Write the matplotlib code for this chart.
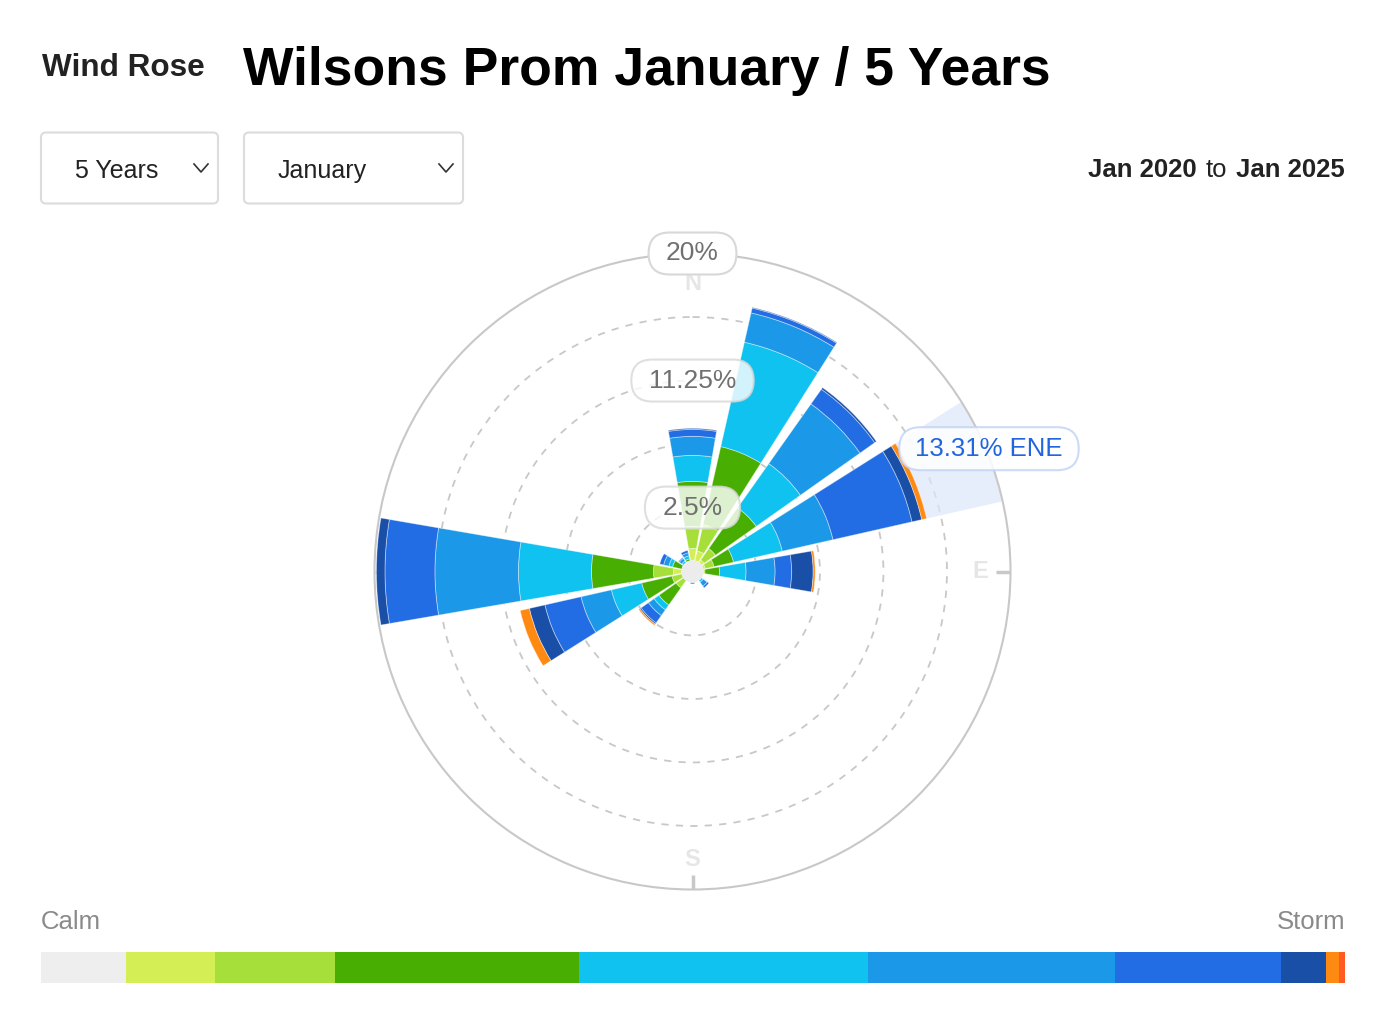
import numpy as np
import matplotlib.pyplot as plt
from matplotlib.patches import FancyBboxPatch
from matplotlib.transforms import IdentityTransform
from matplotlib.lines import Line2D

plt.rcParams['font.family'] = ['Liberation Sans', 'DejaVu Sans']

#------------------------------------------------------------------------------------------------
# Data (percent of time, per direction, stacked per speed class)
directions = ['N', 'NNE', 'NE', 'ENE', 'E', 'ESE', 'SE', 'SSE',
              'S', 'SSW', 'SW', 'WSW', 'W', 'WNW', 'NW', 'NNW']

light_air   = [0.83, 0.69, 0.21, 0.14, 0.00, 0, 0.00, 0, 0.00, 0, 0.00, 0.00, 0.55, 0.00, 0.00, 0.00]
light_brz   = [1.52, 1.86, 0.97, 0.62, 0.10, 0, 0.00, 0, 0.00, 0, 0.62, 0.69, 1.38, 0.00, 0.00, 0.00]
gentle      = [3.10, 5.51, 3.44, 1.38, 1.00, 0, 0.00, 0, 0.00, 0, 1.45, 2.14, 4.27, 0.65, 0.00, 0.14]
moderate    = [1.79, 7.37, 3.72, 3.44, 1.83, 0, 0.14, 0, 0.00, 0, 0.41, 2.14, 5.03, 0.26, 0.14, 0.21]
fresh       = [1.31, 2.07, 5.03, 3.58, 2.00, 0, 0.34, 0, 0.10, 0, 0.48, 2.14, 5.75, 0.37, 0.21, 0.21]
strong      = [0.48, 0.34, 1.24, 5.58, 1.14, 0, 0.14, 0, 0.00, 0, 0.62, 2.55, 3.44, 0.27, 0.07, 0.17]
near_gale   = [0.07, 0.05, 0.14, 0.69, 1.48, 0, 0.00, 0, 0.00, 0, 0.10, 1.10, 0.59, 0.00, 0.00, 0.00]
gale        = [0.00, 0.00, 0.00, 0.34, 0.14, 0, 0.00, 0, 0.00, 0, 0.10, 0.65, 0.00, 0.00, 0.00, 0.00]

series = [light_air, light_brz, gentle, moderate, fresh, strong, near_gale, gale]
colors = ['#d3ef55', '#a6df39', '#49ae02', '#10c2ef', '#1b98e8', '#226de3', '#1a4fa8', '#ff8a12']

# legend scale (calm -> storm), relative span of each class
legend_spans  = [85, 89, 120, 244, 289, 247, 166, 45, 13, 6]
legend_colors = ['#eeeeee'] + colors + ['#ff5a22']

rticks = [2.5, 6.875, 11.25, 15.625]
rlabels = {2.5: '2.5%', 11.25: '11.25%', 20: '20%'}
r_floor = -1.9      # centre of the rose
r_base = -1.14      # edge of the calm circle, bars start here
r_max = 20
highlight = 'ENE'
highlight_text = '13.31% ENE'

#------------------------------------------------------------------------------------------------
W, H = 1389, 1031
fig = plt.figure(figsize=(W / 100, H / 100), dpi=100)
fig.patch.set_facecolor('white')


def fx(x):
    return x / W


def fy(y):
    return 1 - y / H


def pill(cx, cy, w, h, fc='white', ec='#dddddd', alpha=1.0, lw=1.5, z=5, rounding=None):
    # cx, cy in display pixels (origin bottom left)
    r = h / 2 if rounding is None else rounding
    p = FancyBboxPatch((cx - w / 2, cy - h / 2), w, h,
                       boxstyle='round,pad=0,rounding_size=%g' % r,
                       transform=IdentityTransform(), fc=fc, ec=ec, lw=lw, alpha=alpha, zorder=z)
    fig.add_artist(p)
    return p


# Header texts
fig.text(fx(42), fy(76), 'Wind Rose', fontsize=22.7, fontweight='bold', color='#222222', va='baseline')
fig.text(fx(243), fy(85), 'Wilsons Prom January / 5 Years', fontsize=38.5, fontweight='bold',
         color='#000000', va='baseline')

# Dropdowns
for x0, x1, label in [(41, 218, '5 Years'), (244, 463, 'January')]:
    pill((x0 + x1) / 2, H - 168, x1 - x0, 71, ec='#dcdcdc', rounding=5, z=1)
    fig.text(fx(x0 + 34), fy(178), label, fontsize=18, color='#222222', va='baseline')
    cx = x1 - 17
    fig.add_artist(Line2D([fx(cx - 7), fx(cx), fx(cx + 7)], [fy(164), fy(172), fy(164)],
                          color='#333333', lw=1.2))

fig.text(fx(1088), fy(177), 'Jan 2020', fontsize=18.5, fontweight='bold', color='#222222', va='baseline')
fig.text(fx(1216), fy(177), 'to', fontsize=18.5, color='#222222', va='baseline', ha='center')
fig.text(fx(1345), fy(177), 'Jan 2025', fontsize=18.5, fontweight='bold', color='#222222',
         va='baseline', ha='right')

#------------------------------------------------------------------------------------------------
# Rose
cx, cy, R = 692.5, 571.5, 318
ax = fig.add_axes([fx(cx - R), fy(cy + R), 2 * R / W, 2 * R / H], projection='polar')
ax.set_theta_zero_location('N')
ax.set_theta_direction(-1)
ax.set_ylim(r_floor, r_max)
ax.set_axisbelow(True)

theta = np.deg2rad(np.arange(16) * 22.5)
width = np.deg2rad(19.5)

ax.set_xticks([])
ax.set_yticks(rticks)
ax.set_yticklabels([])
ax.yaxis.grid(True, color='#c8c8c8', linestyle=(0, (4, 4)), linewidth=1.3)
ax.xaxis.grid(False)
ax.spines['polar'].set_color('#c8c8c8')
ax.spines['polar'].set_linewidth(1.5)

# hover highlight sector
hi = directions.index(highlight)
ax.bar(theta[hi], r_max - r_base, bottom=r_base, width=width, color='#dce6fa', alpha=0.7,
       linewidth=0, zorder=1.5)

# cardinal letters and ticks (under the bars)
for name in ['N', 'E', 'S', 'W']:
    t = theta[directions.index(name)]
    ax.text(t, 17.9, name, fontsize=17, fontweight='bold', color='#e6e6e6',
            ha='center', va='center', zorder=1)
    ax.plot([t, t], [19.0, r_max], color='#c8c8c8', lw=2.5, zorder=1, solid_capstyle='butt')

bottom = np.full(16, r_base)
for vals, c in zip(series, colors):
    vals = np.array(vals)
    m = vals > 0
    ax.bar(theta[m], vals[m], bottom=bottom[m], width=width, color=c,
           edgecolor=(1, 1, 1, 0.45), linewidth=0.6, zorder=3)
    bottom = bottom + vals

# calm circle in the middle
ax.bar(0, r_base - r_floor, bottom=r_floor, width=2 * np.pi, color='#ececec', linewidth=0, zorder=4)

# radial labels as pills
fig.canvas.draw()
renderer = fig.canvas.get_renderer()
for val, lab in rlabels.items():
    px, py = ax.transData.transform((0, val))
    t = fig.text(px / W, py / H, lab, fontsize=19, color='#707070', ha='center', va='center', zorder=7)
    tw = t.get_window_extent(renderer).width
    a = 0.82 if val < 20 else 1.0
    pill(px, py, tw + 35, 42, fc='white', ec='#d8d8d8', alpha=a, z=6)

# tooltip
px, py = ax.transData.transform((theta[hi], 20.2))
t = fig.text(px / W, py / H, highlight_text, fontsize=18.5, color='#2166dc', ha='center', va='center', zorder=7)
tw = t.get_window_extent(renderer).width
pill(px, py, tw + 32, 43, fc='white', ec='#c4d5f6', alpha=0.85, z=6)

#------------------------------------------------------------------------------------------------
# Calm -> Storm legend
fig.text(fx(41), fy(929), 'Calm', fontsize=18.5, color='#8a8a8a', va='baseline')
fig.text(fx(1345), fy(929), 'Storm', fontsize=18.5, color='#8a8a8a', va='baseline', ha='right')
lax = fig.add_axes([fx(41), fy(983), 1304 / W, 31 / H])
lefts = np.concatenate([[0], np.cumsum(legend_spans)[:-1]])
lax.barh(0, legend_spans, left=lefts, height=1, color=legend_colors, linewidth=0)
lax.set_xlim(0, sum(legend_spans))
lax.set_ylim(-0.5, 0.5)
lax.axis('off')

fig.savefig('out.png', dpi=100)
